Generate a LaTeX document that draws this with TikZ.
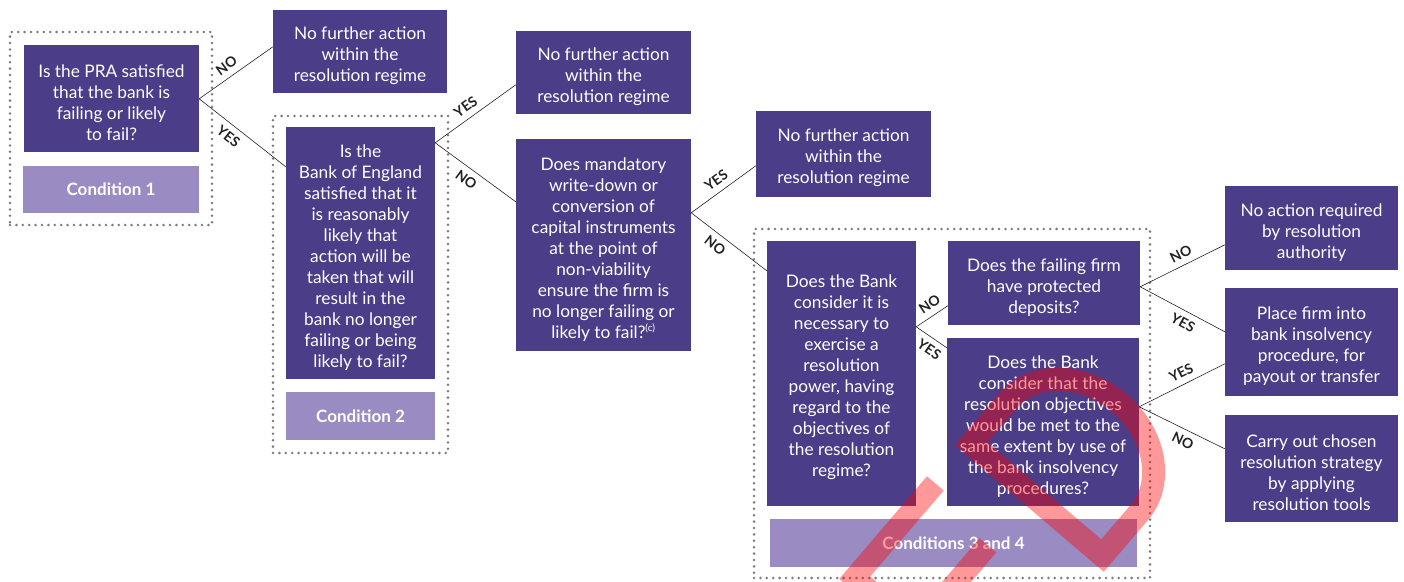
\documentclass[tikz,border=0pt]{standalone}
\usepackage{fontspec}
\setmainfont{Lato}
\usetikzlibrary{calc}
\definecolor{dpurple}{HTML}{4B3D87}
\definecolor{lpurple}{HTML}{9B8BC3}
\definecolor{dotgray}{HTML}{7A7A7A}
\definecolor{ink}{HTML}{222222}
\newcommand\topstrut{\rule{0pt}{21pt}}
\begin{document}
\begin{tikzpicture}[x=1pt,y=-1pt,
  q/.style={fill=dpurple,text=white,align=center,inner sep=0pt,font=\fontsize{17.3}{21}\selectfont},
  cond/.style={fill=lpurple,text=white,inner sep=0pt,font=\fontsize{17}{21}\selectfont\bfseries},
  grp/.style={draw=dotgray,line width=2.8pt,dash pattern=on 0pt off 6.4pt,line cap=round,inner sep=0pt},
  conn/.style={draw=ink,line width=0.6pt},
  lab/.style={font=\fontsize{14}{14}\selectfont\bfseries,text=ink,sloped,inner sep=6pt}
]
\useasboundingbox (0,0) rectangle (1404,581);

% groups
\node[grp,minimum width=202,minimum height=193] (g1) at (111,128.5) {};
\node[grp,minimum width=175,minimum height=337] (g2) at (360.5,284.5) {};
\node[grp,minimum width=396,minimum height=349] (g3) at (952,403.5) {};

% boxes
\node[q,minimum width=175,minimum height=107] (q1) at (111.5,98.5)
  {\topstrut Is the PRA satisfied\\that the bank is\\failing or likely\\to fail?};
\node[cond,minimum width=176,minimum height=47] (c1) at (111,189.5) {Condition 1};
\node[q,minimum width=174,minimum height=83] (nf1) at (360,51.5)
  {\topstrut No further action\\within the\\resolution regime};
\node[q,minimum width=149,minimum height=252] (q2) at (360.5,253)
  {\topstrut Is the\\Bank of England\\satisfied that it\\is reasonably\\likely that\\action will be\\taken that will\\result in the\\bank no longer\\failing or being\\likely to fail?};
\node[cond,minimum width=149,minimum height=48] (c2) at (360.5,416) {Condition 2};
\node[q,minimum width=175,minimum height=83] (nf2) at (603.5,72.5)
  {\topstrut No further action\\within the\\resolution regime};
\node[q,minimum width=175,minimum height=212] (q3) at (603.5,245)
  {\topstrut Does mandatory\\write-down or\\conversion of\\capital instruments\\at the point of\\non-viability\\ensure the firm is\\no longer failing or\\likely to fail?\textsuperscript{\fontsize{10}{10}\selectfont(c)}};
\node[q,minimum width=175,minimum height=86] (nf3) at (843.5,154)
  {\topstrut No further action\\within the\\resolution regime};
\node[q,minimum width=149,minimum height=265] (q4) at (841.5,373.5)
  {\topstrut Does the Bank\\consider it is\\necessary to\\exercise a\\resolution\\power, having\\regard to the\\objectives of\\the resolution\\regime?};
\node[q,minimum width=192,minimum height=84] (q5a) at (1044,283)
  {\topstrut Does the failing firm\\have protected\\deposits?};
\node[q,minimum width=192,minimum height=168] (q5b) at (1043,422)
  {\topstrut Does the Bank\\consider that the\\resolution objectives\\would be met to the\\same extent by use of\\the bank insolvency\\procedures?};
\node[cond,minimum width=367,minimum height=48] (c3) at (953.5,543) {Conditions 3 and 4};
\node[q,minimum width=173,minimum height=84] (r1) at (1311.5,228)
  {\topstrut No action required\\by resolution\\authority};
\node[q,minimum width=173,minimum height=108] (r2) at (1311.5,342)
  {\topstrut Place firm into\\bank insolvency\\procedure, for\\payout or transfer};
\node[q,minimum width=173,minimum height=107] (r3) at (1311.5,468.5)
  {\topstrut Carry out chosen\\resolution strategy\\by applying\\resolution tools};

% connectors
\coordinate (a1) at ($(q1.north east)+(0,54)$);
\draw[conn] (a1) -- node[lab,above,pos=0.46]{NO} ($(nf1.north west)+(0,37)$);
\draw[conn] (a1) -- node[lab,below,pos=0.42]{YES} ($(q2.north west)+(0,40)$);
\coordinate (a2) at ($(q2.north east)+(0,16)$);
\draw[conn] (a2) -- node[lab,above,pos=0.46]{YES} ($(nf2.north west)+(0,54)$);
\draw[conn] (a2) -- node[lab,below,pos=0.47]{NO} ($(q3.north west)+(0,63)$);
\coordinate (a3) at ($(q3.north east)+(0,74)$);
\draw[conn] (a3) -- node[lab,above,pos=0.49]{YES} ($(nf3.north west)+(0,55)$);
\draw[conn] (a3) -- node[lab,below,pos=0.41]{NO} ($(q4.north west)+(0,30)$);
\coordinate (a4) at ($(q4.north east)+(0,86)$);
\draw[conn] (a4) -- node[lab,above,pos=0.62]{NO} ($(q5a.north west)+(0,65)$);
\draw[conn] (a4) -- node[lab,below,pos=0.64]{YES} ($(q5b.north west)+(0,10)$);
\coordinate (a5) at ($(q5a.north east)+(0,46)$);
\draw[conn] (a5) -- node[lab,above,pos=0.54]{NO} ($(r1.north west)+(0,59)$);
\draw[conn] (a5) -- node[lab,below,pos=0.57]{YES} ($(r2.north west)+(0,44)$);
\coordinate (a6) at ($(q5b.north east)+(0,69)$);
\draw[conn] (a6) -- node[lab,above,pos=0.55]{YES} ($(r2.north west)+(0,76)$);
\draw[conn] (a6) -- node[lab,below,pos=0.57]{NO} ($(r3.north west)+(0,34)$);

% watermark
\begin{scope}
\clip (0,0) rectangle (1404,581);
\begin{scope}[shift={(955,445)},x={(0.65pt,0.76pt)},y={(0.763pt,-0.65pt)}]
\draw[red,opacity=0.4,line width=23pt,line join=miter]
  (11.5,11.5) -- (68,11.5) .. controls (106.9,11.5) and (138.5,50) .. (138.5,97.5)
  .. controls (138.5,145) and (106.9,183.5) .. (68,183.5) -- (11.5,183.5) -- cycle;
\draw[red,opacity=0.4,line width=22pt]
  (-42,10) -- (-166,10) -- (-166,260) (-55,90) -- (-166,90);
\end{scope}
\end{scope}
\end{tikzpicture}
\end{document}
